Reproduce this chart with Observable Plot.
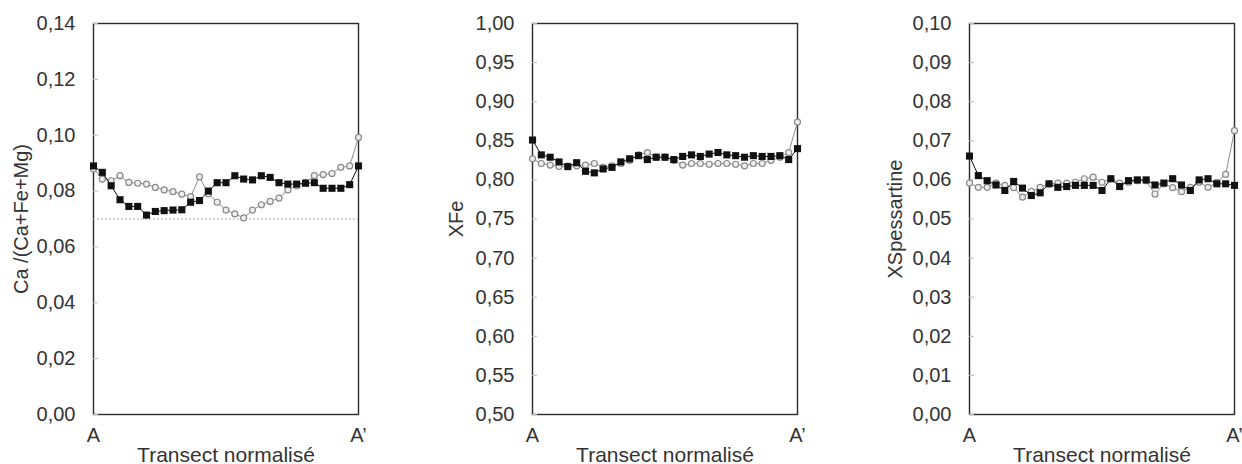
<!DOCTYPE html>
<html>
<head>
<meta charset="utf-8">
<script src="https://cdn.jsdelivr.net/npm/d3@7"></script>
<script src="https://cdn.jsdelivr.net/npm/@observablehq/plot@0.6"></script>
<style>
  html, body { margin: 0; padding: 0; background: #fff; }
  #wrap { position: relative; width: 1242px; height: 464px; overflow: hidden; background: #fff; }
  #wrap > div, #wrap > svg { position: absolute; top: 0; }
</style>
</head>
<body>
<div id="wrap"></div>
<script>
// ---- Data; x = normalised transect position index (A = 0 … A' = 30)
const xTickValues = [0, 30];
const xTickLabels = ["A", "A’"];
const xTitle = "Transect normalisé";

// Panel 1: Ca/(Ca+Fe+Mg)
const caLabel = "Ca /(Ca+Fe+Mg)";
const caTicks = [0, 0.02, 0.04, 0.06, 0.08, 0.10, 0.12, 0.14];
const caRef = [0.07];
const caBlack = [0.089, 0.0867, 0.0819, 0.0769, 0.0745, 0.0745, 0.0714, 0.0727, 0.073, 0.0732,
                 0.0733, 0.076, 0.0766, 0.080, 0.083, 0.083, 0.0855, 0.0843, 0.084, 0.0855,
                 0.0849, 0.083, 0.0825, 0.0825, 0.0828, 0.083, 0.081, 0.081, 0.081, 0.0823, 0.089];
const caGrey  = [0.0879, 0.0843, 0.0837, 0.0855, 0.0831, 0.0828, 0.0825, 0.0813, 0.0804, 0.0798,
                 0.0789, 0.078, 0.0851, 0.079, 0.076, 0.0732, 0.0718, 0.0704, 0.0732, 0.0751,
                 0.0763, 0.0775, 0.0804, 0.0819, 0.0831, 0.0855, 0.0859, 0.0863, 0.0885, 0.089, 0.0992];

// Panel 2: XFe
const feLabel = "XFe";
const feTicks = [0.50, 0.55, 0.60, 0.65, 0.70, 0.75, 0.80, 0.85, 0.90, 0.95, 1.00];
const feBlack = [0.851, 0.832, 0.829, 0.823, 0.817, 0.822, 0.811, 0.809, 0.814, 0.816,
                 0.823, 0.827, 0.831, 0.826, 0.829, 0.829, 0.826, 0.830, 0.832, 0.830,
                 0.833, 0.835, 0.832, 0.831, 0.829, 0.831, 0.830, 0.830, 0.831, 0.826, 0.840];
const feGrey  = [0.827, 0.821, 0.819, 0.817, 0.8175, 0.818, 0.819, 0.821, 0.816, 0.818,
                 0.821, 0.825, 0.832, 0.835, 0.829, 0.829, 0.825, 0.819, 0.821, 0.821,
                 0.820, 0.821, 0.821, 0.820, 0.818, 0.821, 0.821, 0.825, 0.829, 0.835, 0.874];

// Panel 3: XSpessartine
const spsLabel = "XSpessartine";
const spsTicks = [0, 0.01, 0.02, 0.03, 0.04, 0.05, 0.06, 0.07, 0.08, 0.09, 0.10];
const spsBlack = [0.0661, 0.0611, 0.0598, 0.0587, 0.0573, 0.0596, 0.0579, 0.056, 0.0567, 0.059,
                  0.0581, 0.0583, 0.0586, 0.0586, 0.0586, 0.0573, 0.0603, 0.0583, 0.0598, 0.060,
                  0.060, 0.0587, 0.0592, 0.0603, 0.0587, 0.0573, 0.060, 0.0603, 0.059, 0.059, 0.0586];
const spsGrey  = [0.0592, 0.0581, 0.0581, 0.0592, 0.0586, 0.058, 0.0556, 0.0571, 0.0581, 0.059,
                  0.0592, 0.0592, 0.0594, 0.0603, 0.0607, 0.0594, 0.0603, 0.0592, 0.0594, 0.0598,
                  0.0598, 0.0564, 0.059, 0.058, 0.057, 0.0581, 0.0594, 0.0581, 0.0594, 0.0614, 0.0726];

// ---- Drawing
const fmt = d => d3.format(".2f")(d).replace(".", ",");
const toRows = arr => arr.map((v, i) => ({x: i, y: v}));

function panel({left, marginLeft, width, domain, ticks, label, labelOffset, black, grey, refs}) {
  const marks = [
    Plot.frame({stroke: "#2a2a2a", strokeWidth: 1.4}),
    Plot.axisY({ticks, tickSize: 0, tickPadding: 18, tickFormat: fmt,
      label, labelAnchor: "center", labelOffset, labelArrow: "none"}),
    Plot.axisY({ticks, tickSize: -5, tickFormat: () => "", label: null, stroke: "#bbb"}),
    Plot.axisX({ticks: xTickValues, tickSize: 0, tickPadding: 13,
      tickFormat: d => xTickLabels[xTickValues.indexOf(d)], label: null}),
    Plot.text([xTitle], {frameAnchor: "bottom", text: d => d, dy: 47, lineAnchor: "bottom",
      fontSize: 21, fill: "#333"})
  ];
  if (refs) marks.push(Plot.ruleY(refs, {stroke: "#aaa", strokeWidth: 1, strokeDasharray: "2,2"}));
  marks.push(
    Plot.line(toRows(grey), {x: "x", y: "y", stroke: "#8e8e8e", strokeWidth: 1}),
    Plot.dot(toRows(grey), {x: "x", y: "y", r: 3, stroke: "#8a8a8a", fill: "#eeeeee", strokeWidth: 1.2}),
    Plot.line(toRows(black), {x: "x", y: "y", stroke: "#111", strokeWidth: 1}),
    Plot.dot(toRows(black), {x: "x", y: "y", r: 4, symbol: "square", fill: "#111", stroke: "none"})
  );
  const chart = Plot.plot({
    width, height: 464,
    marginLeft, marginRight: width - marginLeft - 265, marginTop: 23, marginBottom: 50,
    style: {fontFamily: "'Liberation Sans', Arial, sans-serif", fontSize: "20px", color: "#333",
            background: "transparent", overflow: "visible"},
    x: {domain: [0, 30]},
    y: {domain},
    marks
  });
  chart.style.left = left + "px";
  document.getElementById("wrap").appendChild(chart);
}

panel({left: 0, marginLeft: 93, width: 380, domain: [0, 0.14], ticks: caTicks,
       label: caLabel, labelOffset: 80, black: caBlack, grey: caGrey, refs: caRef});
panel({left: 420, marginLeft: 112, width: 400, domain: [0.5, 1.0], ticks: feTicks,
       label: feLabel, labelOffset: 84, black: feBlack, grey: feGrey});
panel({left: 840, marginLeft: 129, width: 402, domain: [0, 0.10], ticks: spsTicks,
       label: spsLabel, labelOffset: 82, black: spsBlack, grey: spsGrey});
</script>
</body>
</html>
